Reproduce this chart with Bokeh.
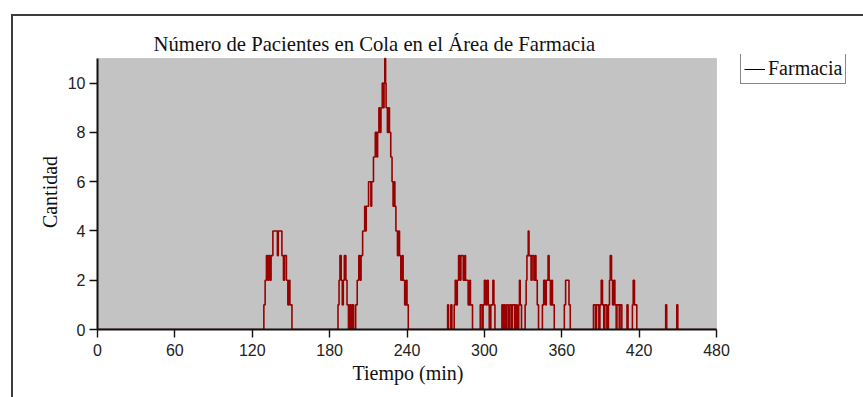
from bokeh.plotting import figure
from bokeh.models import Range1d, FixedTicker, Legend, LegendItem, ColumnDataSource, BoxAnnotation, Title
from bokeh.embed import file_html
from bokeh.resources import INLINE

# Queue length at the pharmacy over the simulated shift (step series: value holds until next time)
tiempo = [
    0.0,
    129.0, 130.0, 131.0, 132.0, 132.8, 133.8, 134.6, 136.0, 139.5, 140.2, 143.0, 144.2,
    145.0, 146.5, 147.6, 148.4, 149.2, 150.8,
    186.5, 187.3, 188.0, 189.0, 189.8, 190.6, 191.4, 192.6, 193.5, 194.6, 195.5, 196.6,
    197.4, 198.6, 200.2, 201.4, 202.6, 203.6, 204.4, 205.6, 207.2, 207.8, 208.4, 210.2,
    212.0, 212.6, 214.0, 215.4, 216.6, 217.2, 218.2, 219.0, 219.8, 220.8, 221.6, 222.2,
    222.8, 223.4, 223.8, 224.8, 225.6, 226.4, 227.4, 228.4, 229.2, 230.0, 230.6, 231.4,
    232.6, 233.4, 234.2, 235.2, 236.4, 237.0, 238.2, 239.4, 240.0, 241.0,
    271.5, 272.2, 274.0, 274.8, 276.6, 277.4, 278.2, 279.0, 280.0, 281.0, 281.8, 283.6,
    284.8, 285.4, 287.4, 288.6, 289.2, 290.8,
    296.8, 298.2, 299.0, 300.0, 301.0, 302.2, 303.0, 303.8, 305.0, 306.6, 307.4, 308.2,
    313.6, 314.6, 315.4, 316.2, 317.2, 318.6, 319.6, 321.0, 321.8, 323.6, 324.4, 325.4,
    326.6, 327.2, 327.8, 328.8,
    331.6, 332.4, 333.0, 334.0, 334.6, 336.2, 337.0, 338.4, 339.4, 340.0, 341.0, 342.0,
    345.0, 346.0, 347.2, 348.0, 349.4, 350.2, 351.2, 352.2, 352.8, 354.2,
    362.0, 363.0, 365.6, 366.6,
    384.6, 386.2, 387.0, 388.8, 389.6, 390.6, 391.6, 392.6, 393.4, 395.0, 396.2, 397.0,
    397.6, 398.6, 399.4, 400.4, 401.2, 402.2, 402.8, 404.6, 405.2, 406.6, 410.6, 411.4,
    414.8, 415.4, 416.4, 418.2, 440.6, 441.4, 449.2, 450.0,
    480.0,
]
cantidad = [
    0,
    1, 2, 3, 2, 3, 2, 3, 4, 3, 4, 3, 2,
    3, 2, 1, 2, 1, 0,
    1, 2, 3, 2, 1, 2, 3, 2, 1, 0, 1, 0,
    1, 0, 1, 2, 3, 2, 3, 4, 5, 4, 5, 6,
    5, 6, 7, 8, 7, 8, 9, 8, 9, 10, 9, 10,
    11, 10, 9, 8, 9, 8, 7, 6, 5, 6, 5, 4,
    3, 4, 3, 2, 3, 2, 1, 2, 1, 0,
    1, 0, 1, 0, 1, 2, 1, 2, 3, 2, 3, 2,
    3, 2, 1, 2, 1, 0,
    1, 0, 1, 2, 1, 2, 1, 0, 1, 2, 1, 0,
    1, 0, 1, 0, 1, 0, 1, 0, 1, 0, 1, 0,
    1, 2, 1, 0,
    1, 2, 3, 4, 3, 2, 3, 2, 3, 2, 1, 0,
    1, 2, 1, 2, 3, 2, 1, 2, 1, 0,
    1, 2, 1, 0,
    1, 0, 1, 0, 1, 2, 1, 0, 1, 0, 1, 2,
    3, 2, 1, 2, 1, 0, 1, 0, 1, 0, 1, 0,
    1, 2, 1, 0, 1, 0, 1, 0,
    0,
]

x_ticks = [0, 60, 120, 180, 240, 300, 360, 420, 480]
y_ticks = [0, 2, 4, 6, 8, 10]
x_lim = (0, 480)
y_lim = (0, 11)

serif = "Liberation Serif"
sans = "Liberation Sans"

# The frame also covers the legend area on the right; the grey plotting
# area is a box over the data limits and the axes are bounded to them.
plot_px = 619          # width of the grey area in pixels
extra_right_px = 136   # frame width beyond it, holding the legend
plot_py = 271          # height of the grey area in pixels
extra_top_px = 4       # frame height above it

x_end = x_lim[1] + (x_lim[1] - x_lim[0]) * extra_right_px / plot_px
y_end = y_lim[1] + (y_lim[1] - y_lim[0]) * extra_top_px / plot_py

p = figure(
    width=863, height=397,
    output_backend="svg", toolbar_location=None,
    x_range=Range1d(x_lim[0], x_end), y_range=Range1d(y_lim[0], y_end),
    min_border_left=97, min_border_right=863 - 97 - plot_px - extra_right_px,
    min_border_top=58 - extra_top_px, min_border_bottom=68,
    title="Número de Pacientes en Cola en el Área de Farmacia",
)

# outer frame lines drawn behind a transparent border area
p.border_fill_alpha = 0
p.styles = {
    "background": (
        "linear-gradient(#3c3c3c,#3c3c3c) 11px 14px / 860px 2px no-repeat, "
        "linear-gradient(#3c3c3c,#3c3c3c) 11px 14px / 2px 400px no-repeat, #ffffff"
    )
}

p.background_fill_color = "#ffffff"
p.outline_line_color = None
p.grid.visible = False

area = BoxAnnotation(
    left=x_lim[0], right=x_lim[1], bottom=y_lim[0], top=y_lim[1],
    fill_color="#c3c3c3", fill_alpha=1,
    line_color="#8a8a8a", line_width=1, level="underlay",
)
p.add_layout(area)

p.title.text_font = serif
p.title.text_font_size = "20.7px"
p.title.text_font_style = "normal"
p.title.text_color = "#111111"
p.title.align = "left"
p.title.offset = 56
p.title.standoff = 0

src = ColumnDataSource(dict(t=tiempo, n=cantidad))
r = p.step("t", "n", source=src, mode="after", line_color="#990000", line_width=1.6)

for ax in (p.xaxis[0], p.yaxis[0]):
    ax.axis_line_color = "#111111"
    ax.axis_line_width = 2
    ax.major_tick_line_color = "#111111"
    ax.major_tick_line_width = 1.4
    ax.major_tick_in = 0
    ax.major_tick_out = 8
    ax.minor_tick_in = 0
    ax.minor_tick_out = 0
    ax.major_label_text_font = sans
    ax.major_label_text_font_size = "16px"
    ax.major_label_text_color = "#222222"
    ax.axis_label_text_font = serif
    ax.axis_label_text_font_size = "20px"
    ax.axis_label_text_font_style = "normal"
    ax.axis_label_text_color = "#111111"

p.xaxis[0].ticker = FixedTicker(ticks=x_ticks)
p.yaxis[0].ticker = FixedTicker(ticks=y_ticks)
p.xaxis[0].bounds = x_lim
p.yaxis[0].bounds = y_lim
p.yaxis[0].axis_label = "Cantidad"
p.xaxis[0].major_label_standoff = 6
p.yaxis[0].major_label_standoff = 4
p.yaxis[0].axis_label_standoff = 4

# x-axis caption, centred under the grey area rather than the whole frame
x_caption = Title(
    text="Tiempo (min)", align="left", offset=255, standoff=3,
    text_font=serif, text_font_size="20px", text_font_style="normal",
    text_color="#111111",
)
p.add_layout(x_caption, "below")

# hidden black line of the same series supplies the legend sample
legend_line = p.line("t", "n", source=src, line_color="#000000", line_width=1, visible=False)
legend = Legend(
    items=[LegendItem(label="Farmacia", renderers=[legend_line])],
    location=(643, 245),
    orientation="vertical",
    margin=0, padding=3, spacing=0,
    glyph_width=21, glyph_height=22, label_standoff=3,
    label_text_font=serif, label_text_font_size="20px", label_text_color="#111111",
    border_line_color="#111111", border_line_width=1.4,
    background_fill_color="#ffffff", background_fill_alpha=1,
    inactive_fill_alpha=0,
)
p.add_layout(legend, "center")

open("out.html", "w").write(file_html(p, INLINE))
